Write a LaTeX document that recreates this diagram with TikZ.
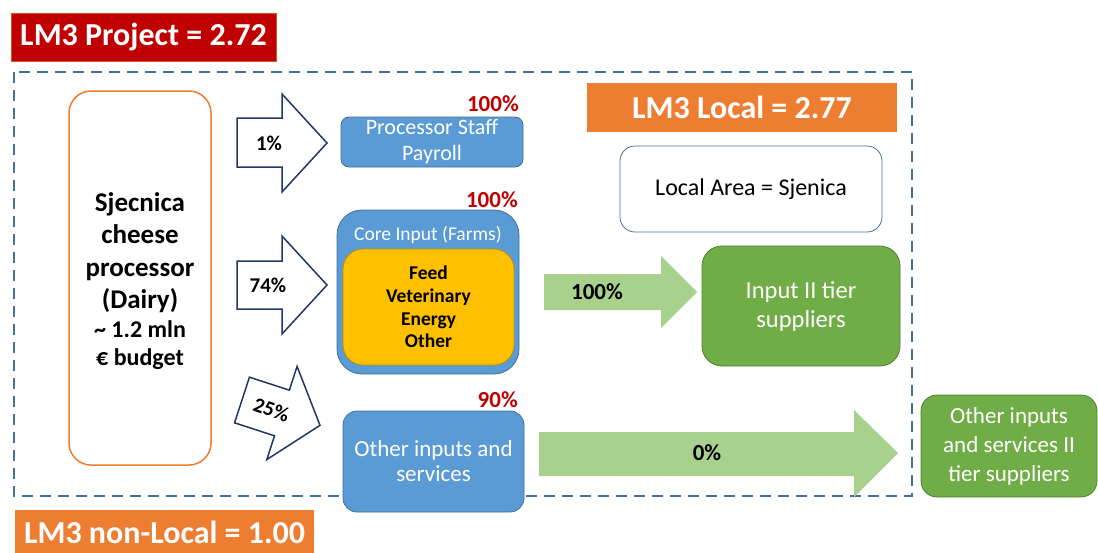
\documentclass[tikz,border=0pt]{standalone}
\usepackage{fontspec}
\setmainfont{Carlito}
\definecolor{dred}{HTML}{C00000}
\definecolor{orng}{HTML}{ED7D31}
\definecolor{bfill}{HTML}{5B9BD5}
\definecolor{bdraw}{HTML}{41719C}
\definecolor{yfill}{HTML}{FFC000}
\definecolor{ydraw}{HTML}{BF9000}
\definecolor{gfill}{HTML}{70AD47}
\definecolor{gdraw}{HTML}{507E32}
\definecolor{lgreen}{HTML}{A9D18E}
\definecolor{navy}{HTML}{203864}
\begin{document}
\begin{tikzpicture}[x=1pt,y=-1pt,
  titlebox/.style={fill=#1, text=white, font=\bfseries\fontsize{32}{36}\selectfont, inner sep=0pt},
  bluebox/.style={draw=bdraw, fill=bfill, line width=0.8pt, text=white, align=center, inner sep=0pt},
  greenbox/.style={draw=gdraw, fill=gfill, line width=0.8pt, text=white, align=center, inner sep=0pt, rounded corners=20pt},
  pct/.style={text=dred, font=\bfseries\fontsize{23}{26}\selectfont, anchor=east, inner sep=0pt},
  blockarrow/.style={draw=navy, fill=white, line width=1.5pt, line join=miter},
  greenarrow/.style={fill=lgreen},
  arrowtext/.style={font=\bfseries\fontsize{21}{24}\selectfont, inner sep=0pt},
]
\useasboundingbox (0,0) rectangle (1098,552);
\fill[white] (0,0) rectangle (1098,552);

% dashed local boundary
\draw[bdraw, line width=2.5pt, dash pattern=on 11pt off 7pt] (14,72) rectangle (912,496);

% title boxes
\node[titlebox=dred, draw=orng!70!dred, line width=0.6pt, minimum width=265pt, minimum height=48pt] (proj) at (143.5,37) {LM3 Project = 2.72};
\node[titlebox=orng, minimum width=310pt, minimum height=49pt] (local) at (742,107.5) {LM3 Local = 2.77};
\fill[orng] (15,510) rectangle (314,560);
\node[text=white, font=\bfseries\fontsize{32}{36}\selectfont, inner sep=0pt] (nonlocal) at (164.5,532) {LM3 non-Local = 1.00};

% local area
\node[draw=bdraw, fill=white, line width=0.8pt, rounded corners=15pt, minimum width=262pt, minimum height=86pt, font=\fontsize{24}{28}\selectfont] (area) at (751,189) {Local Area = Sjenica};

% processor
\node[draw=orng, line width=1.5pt, fill=white, rounded corners=22pt, minimum width=142pt, minimum height=374pt] (proc) at (140,278) {};
\node[align=center, font=\bfseries\fontsize{27}{32.5}\selectfont, inner sep=0pt] (proctext) at (140,281) {Sjecnica\\cheese\\processor\\(Dairy)\\[-4pt]{\fontsize{24}{28}\selectfont \textasciitilde\ 1.2 mln}\\[-4pt]{\fontsize{24}{28}\selectfont € budget}};

% blue boxes
\node[bluebox, rounded corners=8pt, minimum width=182pt, minimum height=50pt, font=\fontsize{22}{26}\selectfont] (staff) at (432,142) {Processor Staff\\Payroll};
\node[bluebox, rounded corners=25pt, minimum width=182pt, minimum height=164pt] (core) at (428,292) {};
\node[text=white, font=\fontsize{19.5}{22}\selectfont, inner sep=0pt] (coretitle) at (428,235) {Core Input (Farms)};
\node[draw=ydraw, fill=yfill, line width=0.8pt, rounded corners=20pt, minimum width=171pt, minimum height=116pt, align=center, inner sep=0pt, font=\bfseries\fontsize{19.5}{22.7}\selectfont] (inner) at (428.5,307) {Feed\\Veterinary\\Energy\\Other};
\node[bluebox, rounded corners=14pt, minimum width=181pt, minimum height=101pt, font=\fontsize{23}{25}\selectfont] (other) at (433.5,461.5) {Other inputs and\\services};

% percentages
\node[pct] (p1) at (519,104) {100\%};
\node[pct] (p2) at (518,200) {100\%};
\node[pct] (p3) at (518,400) {90\%};

% green boxes
\node[greenbox, minimum width=198pt, minimum height=120pt, font=\fontsize{24.5}{29}\selectfont] (tier2) at (801,306) {Input II tier\\suppliers};
\node[greenbox, rounded corners=16pt, minimum width=176pt, minimum height=102pt, font=\fontsize{23}{29}\selectfont] (other2) at (1009,446) {Other inputs\\and services II\\tier suppliers};

% white block arrows
\draw[blockarrow] (237,118) -- (282,118) -- (282,94) -- (327,143) -- (282,192) -- (282,167) -- (237,167) -- cycle;
\node[arrowtext] (a1) at (269,143) {1\%};
\draw[blockarrow] (237,261) -- (282,261) -- (282,236) -- (327,285) -- (282,334) -- (282,309) -- (237,309) -- cycle;
\node[arrowtext] (a2) at (268,285) {74\%};
\begin{scope}[shift={(242,400)}, rotate=-18]
\draw[blockarrow] (0,-24) -- (42,-24) -- (42,-49) -- (82,0) -- (42,49) -- (42,24) -- (0,24) -- cycle;
\node[arrowtext, rotate=-20] (a3) at (31,0) {25\%};
\end{scope}

% green block arrows
\fill[greenarrow] (544,274) -- (661,274) -- (661,256) -- (697,292) -- (661,328) -- (661,310) -- (544,310) -- cycle;
\node[arrowtext, font=\bfseries\fontsize{23}{26}\selectfont] (g1) at (597,292) {100\%};
\fill[greenarrow] (539,432) -- (854,432) -- (854,410) -- (898,453) -- (854,497) -- (854,476) -- (539,476) -- cycle;
\node[arrowtext, font=\bfseries\fontsize{23}{26}\selectfont] (g2) at (707,453) {0\%};
\end{tikzpicture}
\end{document}
